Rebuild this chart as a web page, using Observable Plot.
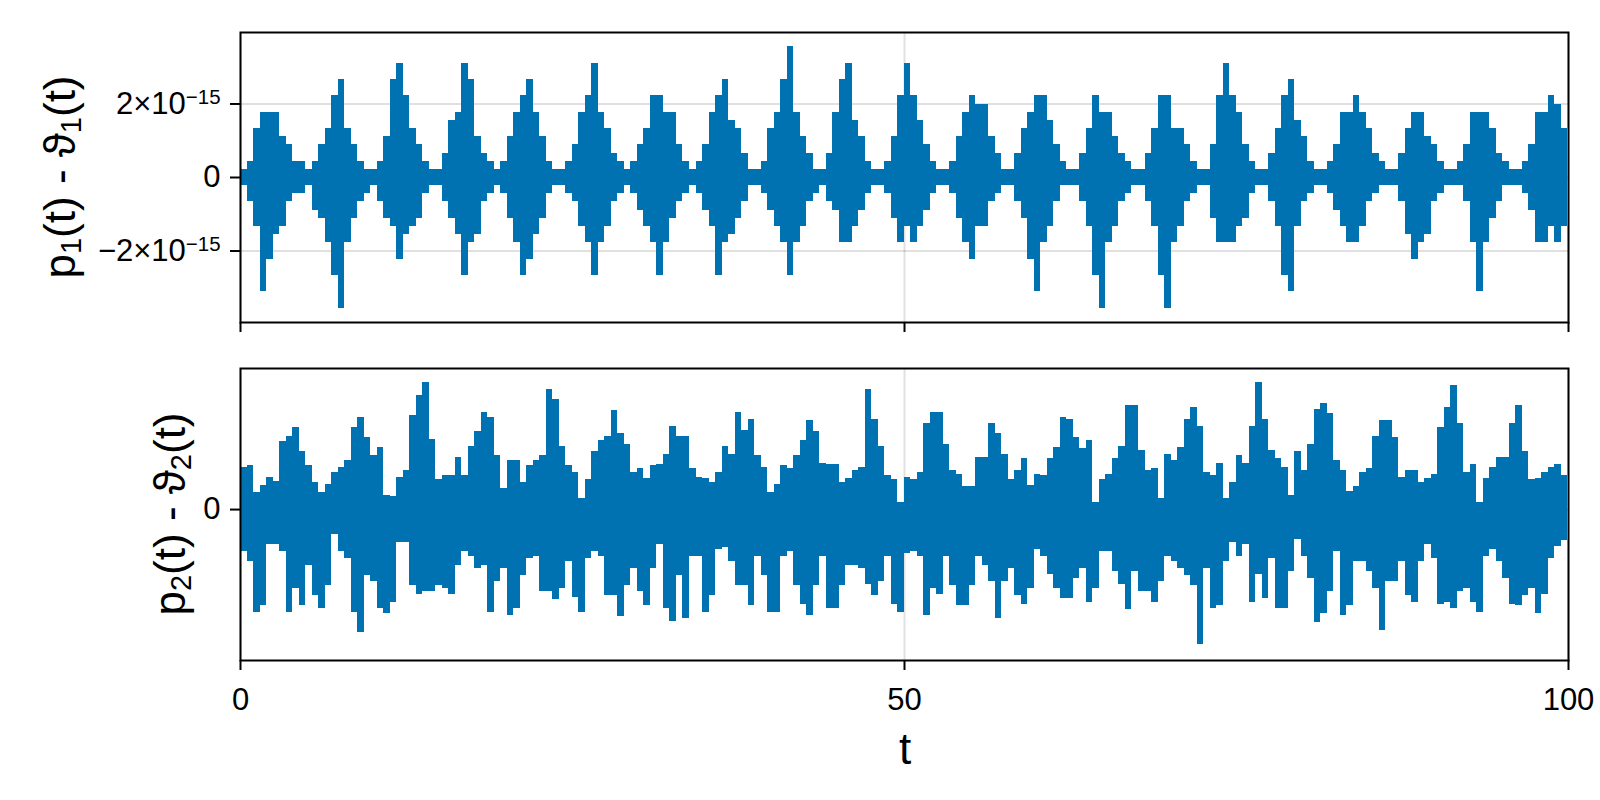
<!DOCTYPE html>
<html>
<head>
<meta charset="utf-8">
<script src="https://cdn.jsdelivr.net/npm/d3@7"></script>
<script src="https://cdn.jsdelivr.net/npm/@observablehq/plot@0.6"></script>
<style>
  html, body { margin: 0; padding: 0; background: #fff; overflow: hidden; }
  #root { position: relative; width: 1600px; height: 800px; font-family: "Liberation Sans", Arial, sans-serif; color: #000; }
  .panel { position: absolute; left: 0; max-width: none !important; }
  .lab { position: absolute; white-space: nowrap; font-size: 44px; line-height: 1; }
  .lab sub { font-size: 0.66em; vertical-align: -0.22em; line-height: 0; }
</style>
</head>
<body>
<div id="root"></div>
<script>
// ---------- data ----------
// width in t of each read-off step
const T_STEP = 0.49;
// machine epsilon: unit of the top panel's values
const EPS = 2.220446049250313e-16;
// arbitrary unit for the bottom panel (no scale ticks except 0)
const BOT_UNIT = 1e-16;

// top panel, p1(t) - θ1(t): highest / lowest value in each step of t (units of EPS)
const topHi = [
  1, 2, 6, 8, 8, 8, 5, 4, 2, 2,
  1, 2, 4, 6, 10, 12, 6, 4, 2, 1,
  1, 2, 5, 12, 14, 10, 6, 4, 2, 1,
  1, 3, 7, 8, 14, 12, 5, 3, 2,
  1, 2, 5, 8, 10, 12, 8, 5, 2, 1,
  1, 2, 4, 8, 10, 14, 8, 6, 3, 2,
  1, 2, 4, 6, 10, 10, 8, 8, 4, 2,
  1, 2, 4, 8, 10, 12, 7, 6, 3, 1,
  1, 2, 6, 8, 12, 16, 8, 5, 3, 1,
  1, 3, 8, 12, 14, 7, 5, 2, 1,
  1, 2, 5, 10, 14, 10, 7, 4, 2, 1,
  1, 2, 5, 8, 10, 9, 9, 5, 3, 1,
  1, 3, 6, 8, 10, 10, 7, 4, 2, 1,
  1, 3, 6, 10, 8, 8, 5, 3, 2, 1,
  1, 3, 6, 10, 10, 6, 6, 4, 2, 1,
  1, 4, 10, 14, 10, 8, 4, 2, 1,
  1, 3, 6, 10, 12, 7, 5, 2, 1, 1,
  2, 4, 8, 8, 10, 8, 6, 3, 2, 1,
  1, 3, 6, 8, 8, 5, 4, 2, 1, 1,
  2, 4, 8, 8, 8, 6, 3, 2, 1, 1,
  2, 4, 8, 8, 10, 9, 6
];
const topLo = [
  -1, -3, -6, -14, -10, -7, -6, -3, -2, -2,
  -1, -4, -5, -8, -12, -16, -8, -5, -3, -2,
  -1, -3, -5, -6, -10, -7, -6, -5, -2, -1,
  -1, -3, -5, -7, -12, -8, -7, -3, -2,
  -1, -2, -5, -8, -12, -10, -7, -5, -2, -1,
  -1, -2, -3, -6, -8, -12, -8, -6, -3, -2,
  -1, -2, -4, -6, -8, -12, -8, -5, -3, -2,
  -1, -2, -4, -6, -12, -8, -7, -5, -3, -1,
  -1, -2, -4, -6, -8, -12, -8, -6, -3, -2,
  -1, -3, -4, -8, -8, -6, -4, -2, -1,
  -1, -2, -5, -8, -6, -8, -6, -4, -2, -1,
  -1, -2, -5, -8, -10, -6, -6, -3, -2, -1,
  -1, -3, -5, -10, -14, -8, -6, -3, -1, -1,
  -1, -3, -6, -12, -16, -8, -6, -3, -2, -1,
  -1, -3, -6, -12, -16, -8, -6, -3, -2, -1,
  -1, -5, -8, -8, -8, -6, -5, -2, -1,
  -1, -3, -6, -12, -14, -6, -3, -2, -1, -1,
  -2, -4, -6, -8, -8, -6, -3, -2, -1, -1,
  -1, -3, -7, -10, -8, -7, -3, -2, -1, -1,
  -1, -3, -8, -14, -8, -5, -3, -1, -1, -1,
  -2, -4, -8, -8, -6, -8, -6
];

// bottom panel, p2(t) - θ2(t): highest / lowest value in each step of t (arbitrary units)
const botHi = [
  3.0, 3.1, 1.2, 1.7, 2.3, 2.0, 4.8, 5.2, 5.8, 4.1,
  3.1, 1.9, 1.2, 1.8, 2.6, 3.0, 3.5, 5.8, 6.5, 5.1,
  3.8, 4.4, 1.0, 0.9, 2.3, 2.8, 6.7, 8.1, 9.0, 5.0,
  2.1, 2.4, 2.4, 3.7, 2.4, 4.5, 5.5, 6.9, 6.5, 3.8,
  1.5, 3.5, 3.5, 1.9, 3.1, 3.5, 3.8, 8.5, 7.8, 4.5,
  3.1, 2.6, 0.75, 2.1, 4.1, 4.9, 5.2, 7.0, 5.4, 4.6,
  2.6, 2.9, 2.2, 3.1, 3.2, 3.9, 5.9, 5.2, 5.2, 2.9,
  2.3, 2.2, 1.9, 2.6, 4.5, 3.9, 6.9, 5.6, 6.4, 3.8,
  3.0, 1.2, 1.8, 3.1, 2.9, 3.8, 4.9, 6.3, 5.5, 3.3,
  3.2, 3.2, 1.9, 2.2, 2.8, 3.0, 8.5, 6.4, 4.5, 2.4,
  2.1, 0.5, 2.3, 2.1, 2.6, 6.1, 6.9, 6.9, 4.6, 2.8,
  2.5, 1.6, 1.6, 3.7, 3.7, 6.1, 5.4, 3.9, 2.1, 2.8,
  3.6, 1.7, 2.5, 2.4, 3.6, 4.4, 6.5, 6.4, 5.1, 4.3,
  4.9, 0.5, 2.1, 2.5, 3.6, 4.5, 7.4, 7.4, 4.2, 2.8,
  2.9, 0.75, 3.9, 3.5, 4.4, 6.4, 7.2, 5.9, 2.6, 2.4,
  3.3, 0.75, 1.9, 3.8, 3.3, 5.9, 9.0, 6.4, 4.2, 3.6,
  3.0, 1.0, 4.1, 2.8, 4.6, 7.1, 7.5, 6.8, 3.5, 2.8,
  1.3, 1.6, 2.6, 2.9, 5.2, 6.3, 6.3, 5.1, 2.3, 2.8,
  2.8, 1.9, 2.2, 2.5, 5.8, 7.2, 8.8, 6.1, 2.6, 3.2,
  0.5, 2.2, 3.0, 3.7, 3.7, 6.1, 7.4, 4.1, 2.1, 2.2,
  2.6, 3.0, 3.2, 2.4
];
const botLo = [
  -3.0, -3.7, -7.3, -6.8, -2.5, -2.5, -3.0, -7.3, -5.6, -6.8,
  -4.0, -6.1, -7.0, -5.4, -1.8, -3.0, -3.5, -7.3, -8.7, -4.7,
  -5.1, -7.0, -7.4, -6.6, -2.3, -2.3, -5.4, -6.0, -5.8, -5.8,
  -5.4, -5.6, -6.0, -4.0, -3.0, -3.3, -4.2, -4.0, -7.3, -5.1,
  -4.2, -7.5, -7.0, -4.7, -3.5, -3.3, -5.8, -5.8, -6.4, -5.6,
  -3.7, -6.2, -7.3, -3.5, -3.0, -3.3, -6.1, -6.1, -7.6, -5.4,
  -4.2, -5.8, -6.8, -4.2, -2.5, -7.0, -7.9, -4.7, -7.7, -3.3,
  -3.3, -7.3, -6.1, -2.8, -2.7, -3.7, -5.4, -5.4, -6.8, -3.3,
  -4.7, -7.3, -7.3, -3.3, -3.0, -5.4, -6.7, -7.5, -5.4, -3.3,
  -7.0, -7.0, -5.4, -4.0, -4.0, -4.2, -5.3, -6.1, -5.1, -3.3,
  -6.7, -7.3, -3.1, -3.0, -3.3, -7.5, -5.6, -6.0, -3.3, -5.4,
  -6.8, -6.8, -5.4, -3.3, -4.0, -5.1, -7.7, -5.1, -4.2, -6.1,
  -6.7, -5.6, -2.8, -3.3, -4.6, -5.6, -6.3, -6.3, -4.9, -4.2,
  -6.6, -5.6, -3.0, -3.0, -4.4, -5.3, -7.1, -4.4, -5.8, -5.8,
  -6.6, -5.1, -3.3, -3.7, -4.2, -4.7, -5.4, -9.6, -4.2, -7.0,
  -6.8, -3.7, -2.3, -3.3, -2.5, -6.6, -4.6, -6.3, -3.5, -7.0,
  -7.0, -4.4, -2.1, -3.3, -4.9, -8.0, -7.4, -5.8, -3.0, -7.5,
  -6.8, -3.7, -3.7, -4.4, -5.6, -8.6, -5.1, -5.1, -3.7, -6.1,
  -6.6, -3.7, -2.5, -3.5, -6.7, -6.6, -7.0, -5.8, -5.6, -6.6,
  -7.3, -3.3, -2.8, -3.7, -4.9, -6.7, -6.8, -6.1, -5.6, -7.4,
  -6.0, -3.5, -2.6, -2.2
];

// axes
const xDomain = [0, 100];
const xTicks = [0, 50, 100];
const topYTicks = [-2e-15, 0, 2e-15];
const topYDomain = [-3.944e-15, 3.944e-15];
const botYTicks = [0];
const botYDomain = [-10.7 * BOT_UNIT, 10 * BOT_UNIT];
const xLabel = "t";
const LINE_COLOR = "#0072B2";

// ---------- build tables ----------
function steps(hi, lo, unit) {
  return hi.map((h, i) => ({
    t0: i * T_STEP,
    t1: Math.min((i + 1) * T_STEP, xDomain[1]),
    hi: h * unit,
    lo: lo[i] * unit
  }));
}
const topRows = steps(topHi, topLo, EPS);
const botRows = steps(botHi, botLo, BOT_UNIT);

const fmtTop = v => v === 0 ? "0" : (v < 0 ? "\u22122" : "2") + "×10^\u221215";

const common = {
  width: 1600,
  marginLeft: 240,
  marginRight: 32,
  style: { fontFamily: "Liberation Sans, Arial, sans-serif", fontSize: "31px", color: "#000", background: "transparent", overflow: "visible" }
};
const gridStyle = { stroke: "#000", strokeOpacity: 0.12, strokeWidth: 2 };
const dataStyle = { x1: "t0", x2: "t1", y1: "lo", y2: "hi", fill: LINE_COLOR, inset: 0, shapeRendering: "crispEdges" };

const topPlot = Plot.plot({
  ...common,
  height: 340,
  marginTop: 32,
  marginBottom: 18,
  x: { domain: xDomain },
  y: { domain: topYDomain },
  marks: [
    Plot.gridX(xTicks, gridStyle),
    Plot.gridY(topYTicks, gridStyle),
    Plot.rectY(topRows, dataStyle),
    Plot.frame({ stroke: "#000", strokeWidth: 2 }),
    Plot.axisX(xTicks, { tickSize: 10, strokeWidth: 2, tickFormat: () => "", label: null }),
    Plot.axisY(topYTicks, { tickSize: 10, tickPadding: 10, strokeWidth: 2, tickFormat: fmtTop, label: null })
  ]
});

const botPlot = Plot.plot({
  ...common,
  height: 460,
  marginTop: 28,
  marginBottom: 140,
  x: { domain: xDomain },
  y: { domain: botYDomain },
  marks: [
    Plot.gridX(xTicks, gridStyle),
    Plot.gridY(botYTicks, gridStyle),
    Plot.rectY(botRows, dataStyle),
    Plot.frame({ stroke: "#000", strokeWidth: 2 }),
    Plot.axisX(xTicks, { tickSize: 10, tickPadding: 17, strokeWidth: 2, tickFormat: d => String(d), label: null }),
    Plot.axisY(botYTicks, { tickSize: 10, tickPadding: 10, strokeWidth: 2, tickFormat: d => String(d), label: null })
  ]
});

// superscript exponent in tick labels written as base^exp
function superscripts(svg) {
  svg.querySelectorAll("text").forEach(t => {
    const s = t.textContent;
    if (s.includes("^")) {
      const [base, exp] = s.split("^");
      t.textContent = base;
      const ts = document.createElementNS("http://www.w3.org/2000/svg", "tspan");
      ts.setAttribute("dy", "-0.5em");
      ts.style.fontSize = "0.66em";
      ts.textContent = exp;
      t.appendChild(ts);
    }
  });
}
superscripts(topPlot);

const root = document.getElementById("root");
topPlot.classList.add("panel"); topPlot.style.top = "0px";
botPlot.classList.add("panel"); botPlot.style.top = "340px";
root.appendChild(topPlot);
root.appendChild(botPlot);

function addLabel(html, cx, cy, rotate) {
  const d = document.createElement("div");
  d.className = "lab";
  d.innerHTML = html;
  d.style.left = cx + "px";
  d.style.top = cy + "px";
  d.style.transform = "translate(-50%, -50%)" + (rotate ? " rotate(-90deg)" : "");
  root.appendChild(d);
}
addLabel("p<sub>1</sub>(t) - ϑ<sub>1</sub>(t)", 60, 177, true);
addLabel("p<sub>2</sub>(t) - ϑ<sub>2</sub>(t)", 170, 514, true);
addLabel(xLabel, 905, 749, false);
</script>
</body>
</html>
